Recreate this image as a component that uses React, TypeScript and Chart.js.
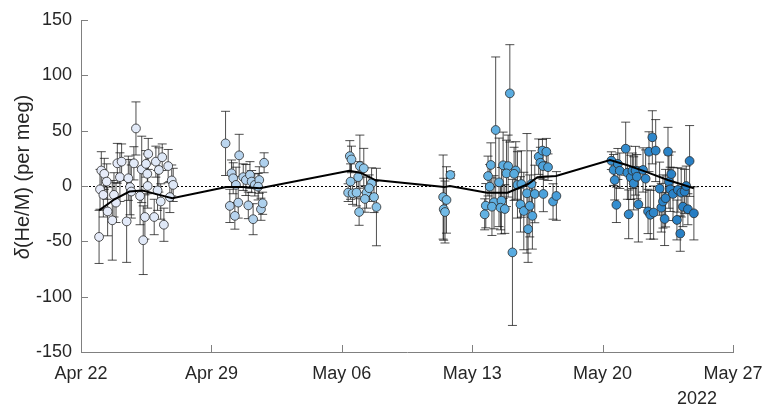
import React, { useEffect, useRef } from "react";
import { Chart, registerables } from "chart.js";

Chart.register(...registerables);

// x values: days since Apr 22, 2022
const TICK_LABELS = ["Apr 22", "Apr 29", "May 06", "May 13", "May 20", "May 27"];
const YEAR_LABEL = "2022";
const Y_TITLE_ITALIC = "δ";
const Y_TITLE_REST = "(He/M) (per meg)";

const obsDays = [
  0.97, 1.09, 1.02, 1.2, 1.25, 1.38, 1.43, 1.68, 1.77, 1.88, 1.95, 2.09, 2.18, 2.45, 2.54, 2.63, 2.7, 2.84, 2.95,
  3.17, 3.26, 3.34, 3.43, 3.49, 3.56, 3.61, 3.58, 3.93, 4.02, 4.11, 4.18, 4.28, 4.36, 4.45, 4.68, 4.77, 4.87, 4.95,
  7.76, 8.49, 9.83, 8.08, 8.17, 8.32, 8.71, 8.85, 9.07, 9.16, 9.33, 9.57, 7.99, 8.26, 8.44, 8.98, 9.24, 9.66, 9.75, 9.51,
  14.43, 14.52, 14.97, 15.18, 14.47, 14.88, 15.6, 14.34, 14.58, 14.79, 15.33, 15.47, 15.24, 15.73, 14.93, 15.86,
  19.44, 19.62, 19.47, 19.54, 19.83,
  23.02, 22.26, 23.16, 22.0, 21.85, 21.94, 22.44, 22.66, 22.93, 22.84, 23.34, 23.25, 21.73, 21.67, 22.17, 22.06,
  22.57, 22.52, 22.75, 23.43, 23.64, 23.94, 24.18, 24.36, 23.59, 23.77, 24.09, 24.23, 24.0, 24.57, 24.77, 24.98,
  24.66, 24.8, 25.07, 24.82, 25.34, 25.52,
  28.47, 28.59, 28.65, 28.82, 28.92, 28.74, 29.24, 29.33, 29.4, 29.51, 29.67, 29.6, 29.77, 29.84, 29.92, 30.17,
  30.31, 30.44, 30.49, 30.67, 30.56, 30.74, 30.85, 31.06, 31.15, 31.24, 31.33, 31.38, 31.51, 31.56, 31.69, 31.63,
  31.78, 31.99, 32.04, 32.17, 32.22, 32.31, 32.4, 32.49, 32.58, 32.67, 32.9,
];

const obsValues = [
  -46, 14, -3, -8, 11, 4, -23, -31, -8, -15, 20.5, 8, 22, -32, 7, -1, -5, 20.5, 52,
  -9, 15, -49, -28, 20, 11, 29, 0, -28, 22, -4, 14.5, -14, 26, -35, 18, -10, 5, 1,
  38.5, 27.7, 21, 11.5, 7, 1, 8, 5.4, 10, 4, 1, 5.4, -18, -27, -15, -17.5, -30, -21, -15.6, -0.6,
  27, 24, 18, 16, 4, 8, 2.4, -6, -6.6, -6, -6, -2, -11.7, -10, -23.5, -19,
  -10, -12.6, -21, -23.5, 10,
  83.7, 50.6, -60, 19, 9, -0.6, 3.3, 18.7, 18, 11.4, 14, 11, -17.8, -25.6, -14.7, -18.7,
  -13.3, -19.6, -20.8, 1, 1.8, -6.6, 1.8, -7.2, -16.6, -22.6, -18, -27, -39, 26.5, 32, 31,
  21, 18, 17, -7.2, -14, -9,
  22.9, 14.5, 5.4, 19.9, 13.8, -17, 33.7, 12, -25.6, 7.8, 2.4, 13.8, 13.8, 8.4, -16.6, 14.5,
  6.6, -23, 31, 44, -26, -24, 32, -2.4, -19.6, -14, -29.8, -11, 31, 3.9, 10.8, -3,
  -7.2, -30.7, -3.6, -43, -6, -18.7, -5, 0, -21, 22.6, -24.7,
];

const obsErrors = [
  24, 17, 18, 20, 14, 16, 22, 36, 20, 18, 18, 22, 16, 37, 20, 25, 24, 15, 24,
  26, 30, 31, 20, 12, 18, 14, 20, 16, 14, 18, 20, 16, 12, 15, 15, 14, 14, 15,
  29, 19, 9, 12, 14, 16, 12, 14, 12, 10, 10, 12, 15, 12, 14, 12, 14, 10, 10, 12,
  14, 12, 28, 18, 16, 14, 14, 8, 10, 12, 14, 12, 12, 14, 12, 35,
  38, 30, 28, 28, 3,
  44, 66, 66, 20, 18, 20, 40, 30, 28, 30, 26, 24, 20, 14, 24, 26,
  30, 20, 22, 30, 30, 54, 30, 26, 25, 35, 28, 30, 30, 16, 10, 12,
  14, 12, 12, 16, 16, 22,
  8, 14, 18, 14, 16, 16, 24, 24, 22, 20, 24, 16, 22, 20, 34, 20,
  26, 20, 18, 24, 22, 24, 28, 24, 22, 24, 24, 26, 22, 24, 20, 20,
  24, 18, 20, 16, 22, 18, 20, 18, 14, 32, 24,
];

const trendDays = [0.97, 1.8, 2.6, 3.3, 4.2, 4.9, 7.8, 8.7, 9.6, 14.4, 15.0, 15.8, 19.5, 19.8, 21.8, 22.9, 24.0, 24.5, 25.5, 28.4, 29.3, 30.3, 31.5, 32.9];
const trendValues = [-22, -12, -5, -4, -8, -11, -1, -1, -2, 13.8, 12, 5.4, -1, 0, -6, -6, 1.8, 8, 9, 23.5, 19, 13, 5.4, -2];

// colour stops (day -> rgb) for marker fill
const COLOR_STOPS: [number, number[]][] = [
  [0, [232, 236, 250]],
  [5, [222, 232, 247]],
  [8, [185, 212, 238]],
  [15, [142, 198, 234]],
  [20, [110, 185, 230]],
  [23, [90, 172, 224]],
  [28, [55, 145, 210]],
  [33, [38, 125, 195]],
];

function colorFor(d: number): string {
  if (d <= COLOR_STOPS[0][0]) return `rgb(${COLOR_STOPS[0][1].join(",")})`;
  for (let i = 1; i < COLOR_STOPS.length; i++) {
    const [d1, c1] = COLOR_STOPS[i];
    const [d0, c0] = COLOR_STOPS[i - 1];
    if (d <= d1) {
      const t = (d - d0) / (d1 - d0);
      const c = c0.map((v, k) => Math.round(v + (c1[k] - v) * t));
      return `rgb(${c.join(",")})`;
    }
  }
  return `rgb(${COLOR_STOPS[COLOR_STOPS.length - 1][1].join(",")})`;
}

const AXIS_COLOR = "#808080";
const TEXT_COLOR = "#262626";
const FONT = "Liberation Sans, Arial, sans-serif";

const extrasPlugin = {
  id: "extras",
  beforeDatasetsDraw(chart: any) {
    const { ctx, scales, chartArea } = chart;
    const x = scales.x;
    const y = scales.y;
    ctx.save();
    // zero dashed line
    ctx.strokeStyle = "#000";
    ctx.lineWidth = 1;
    ctx.setLineDash([2, 2]);
    const y0 = Math.round(y.getPixelForValue(0)) + 0.5;
    ctx.beginPath();
    ctx.moveTo(chartArea.left, y0);
    ctx.lineTo(chartArea.right, y0);
    ctx.stroke();
    ctx.setLineDash([]);
    // error bars
    ctx.strokeStyle = "rgba(20,20,20,0.75)";
    ctx.lineWidth = 1;
    for (let i = 0; i < obsDays.length; i++) {
      const px = x.getPixelForValue(obsDays[i]);
      const pTop = y.getPixelForValue(obsValues[i] + obsErrors[i]);
      const pBot = y.getPixelForValue(obsValues[i] - obsErrors[i]);
      ctx.beginPath();
      ctx.moveTo(px, pTop);
      ctx.lineTo(px, pBot);
      ctx.moveTo(px - 4.5, pTop);
      ctx.lineTo(px + 4.5, pTop);
      ctx.moveTo(px - 4.5, pBot);
      ctx.lineTo(px + 4.5, pBot);
      ctx.stroke();
    }
    ctx.restore();
  },
  afterDraw(chart: any) {
    const { ctx, scales, chartArea } = chart;
    const x = scales.x;
    const y = scales.y;
    ctx.save();
    // inward ticks
    ctx.strokeStyle = AXIS_COLOR;
    ctx.lineWidth = 1;
    ctx.beginPath();
    y.ticks.forEach((t: any) => {
      const py = Math.round(y.getPixelForValue(t.value)) + 0.5;
      ctx.moveTo(chartArea.left, py);
      ctx.lineTo(chartArea.left + 7, py);
    });
    x.ticks.forEach((t: any) => {
      const px = Math.round(x.getPixelForValue(t.value)) + 0.5;
      ctx.moveTo(px, chartArea.bottom);
      ctx.lineTo(px, chartArea.bottom - 7);
    });
    ctx.stroke();
    // year label
    ctx.fillStyle = TEXT_COLOR;
    ctx.font = `18px ${FONT}`;
    ctx.textAlign = "center";
    ctx.textBaseline = "alphabetic";
    ctx.fillText(YEAR_LABEL, 697, 404);
    // y-axis title
    ctx.translate(23, 177);
    ctx.rotate(-Math.PI / 2);
    ctx.textBaseline = "middle";
    ctx.textAlign = "left";
    const italicFont = `italic 20px ${FONT}`;
    const normalFont = `20px ${FONT}`;
    ctx.font = italicFont;
    const w1 = ctx.measureText(Y_TITLE_ITALIC).width;
    ctx.font = normalFont;
    const w2 = ctx.measureText(Y_TITLE_REST).width;
    const start = -(w1 + w2) / 2;
    ctx.font = italicFont;
    ctx.fillText(Y_TITLE_ITALIC, start, 0);
    ctx.font = normalFont;
    ctx.fillText(Y_TITLE_REST, start + w1, 0);
    ctx.restore();
  },
};

export default function App() {
  const canvasRef = useRef<HTMLCanvasElement | null>(null);

  useEffect(() => {
    document.body.style.margin = "0";
    const canvas = canvasRef.current;
    if (!canvas) return;
    const pts = obsDays.map((d, i) => ({ x: d, y: obsValues[i] }));
    const trend = trendDays.map((d, i) => ({ x: d, y: trendValues[i] }));
    const chart = new Chart(canvas, {
      type: "scatter",
      data: {
        datasets: [
          {
            type: "line",
            label: "trend",
            data: trend,
            borderColor: "#000",
            borderWidth: 2,
            pointRadius: 0,
            showLine: true,
            fill: false,
            order: 0,
          } as any,
          {
            label: "obs",
            data: pts,
            pointRadius: 4.4,
            pointBackgroundColor: obsDays.map(colorFor),
            pointBorderColor: "#2a2a2a",
            pointBorderWidth: 0.8,
            order: 1,
          },
        ],
      },
      options: {
        responsive: false,
        animation: false,
        layout: { padding: { top: 20, right: 31, left: 0, bottom: 0 } },
        plugins: {
          legend: { display: false },
          tooltip: { enabled: false },
        },
        scales: {
          x: {
            type: "linear",
            min: 0,
            max: 35,
            grid: { display: true, drawOnChartArea: false, drawTicks: false },
            border: { display: true, color: AXIS_COLOR, width: 1 },
            ticks: {
              stepSize: 7,
              color: TEXT_COLOR,
              font: { family: FONT, size: 18 },
              padding: 11,
              maxRotation: 0,
              autoSkip: false,
              callback: (v: any) => TICK_LABELS[Math.round(Number(v) / 7)] ?? "",
            },
            afterFit: (s: any) => {
              s.height = 54;
              s.paddingLeft = 0;
              s.paddingRight = 0;
            },
          },
          y: {
            min: -150,
            max: 150,
            grid: { display: true, drawOnChartArea: false, drawTicks: false },
            border: { display: true, color: AXIS_COLOR, width: 1 },
            ticks: {
              stepSize: 50,
              color: TEXT_COLOR,
              font: { family: FONT, size: 18 },
              padding: 9,
            },
            afterFit: (s: any) => {
              s.width = 81;
              s.paddingTop = 0;
              s.paddingBottom = 0;
            },
          },
        },
      },
      plugins: [extrasPlugin],
    });
    return () => chart.destroy();
  }, []);

  return (
    <div style={{ width: 764, height: 406 }}>
      <canvas ref={canvasRef} width={764} height={406} style={{ display: "block" }} />
    </div>
  );
}
